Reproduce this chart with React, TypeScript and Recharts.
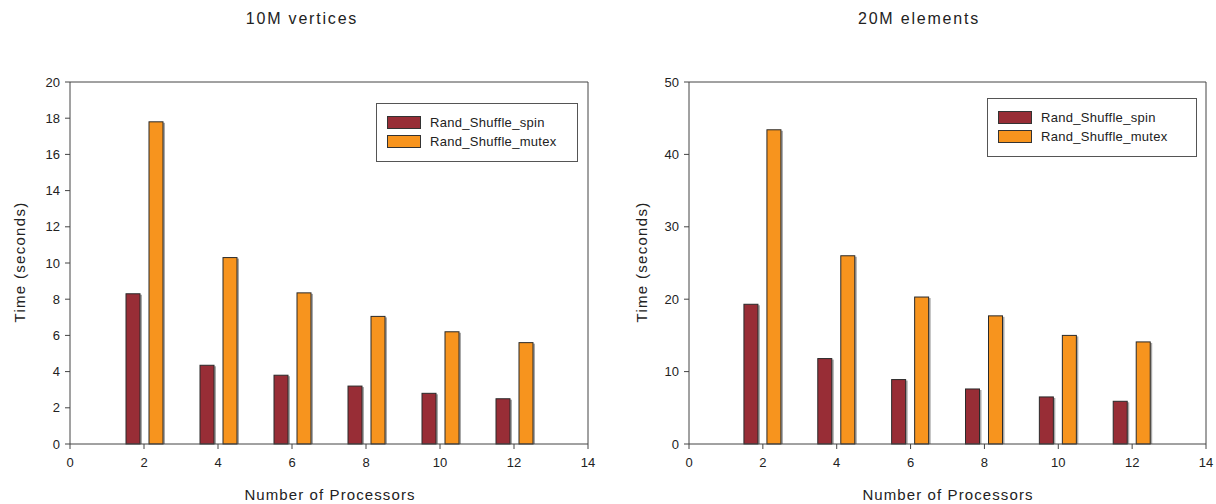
import React from "react";
import { ComposedChart, Bar, XAxis, YAxis, ReferenceLine } from "recharts";

const processors = [2, 4, 6, 8, 10, 12];
const verticesSpin = [8.3, 4.35, 3.8, 3.2, 2.8, 2.5];
const verticesMutex = [17.8, 10.3, 8.35, 7.05, 6.2, 5.6];
const elementsSpin = [19.3, 11.8, 8.9, 7.6, 6.5, 5.9];
const elementsMutex = [43.4, 26.0, 20.3, 17.7, 15.0, 14.1];
const xTicks = [0, 2, 4, 6, 8, 10, 12, 14];
const yTicksLeft = [0, 2, 4, 6, 8, 10, 12, 14, 16, 18, 20];
const yTicksRight = [0, 10, 20, 30, 40, 50];
const seriesNames = ["Rand_Shuffle_spin", "Rand_Shuffle_mutex"];
const titles = ["10M vertices", "20M elements"];

const SPIN = "#982D36";
const MUTEX = "#F7941E";
const FONT = "'Liberation Sans', Arial, sans-serif";

const ShadowBar = (props: any) => {
  const { x, y, width, height, fill } = props;
  if (height == null || width == null) return null;
  return (
    <g>
      <rect x={x + 2} y={y + 1} width={width} height={height - 1} fill="#a8a8a8" />
      <rect x={x} y={y} width={width} height={height} fill={fill} stroke="#2a2a2a" strokeWidth={1} />
    </g>
  );
};

const LegendBox = ({ left, top, width }: { left: number; top: number; width: number }) => (
  <div
    style={{
      position: "absolute",
      left,
      top,
      width,
      border: "1px solid #555",
      background: "#fff",
      padding: "9px 10px 10px 10px",
      fontFamily: FONT,
      fontSize: 13,
      letterSpacing: 0.3,
      color: "#222",
      boxSizing: "border-box",
    }}
  >
    {seriesNames.map((n, i) => (
      <div key={n} style={{ display: "flex", alignItems: "center", height: 19 }}>
        <div
          style={{
            width: 32,
            height: 11,
            background: i === 0 ? SPIN : MUTEX,
            border: "1px solid #333",
            marginRight: 9,
          }}
        />
        <span>{n}</span>
      </div>
    ))}
  </div>
);

type PanelProps = {
  spin: number[];
  mutex: number[];
  yMax: number;
  yTicks: number[];
  margin: { top: number; right: number; bottom: number; left: number };
};

const Panel = ({ spin, mutex, yMax, yTicks, margin }: PanelProps) => {
  const data = processors.map((p, i) => ({ p, spin: spin[i], mutex: mutex[i] }));
  const tickStyle = { fontFamily: FONT, fontSize: 13, fill: "#222" };
  return (
    <ComposedChart width={608} height={504} data={data} margin={margin} barGap={9}>
      <XAxis
        dataKey="p"
        type="number"
        domain={[0, 14]}
        ticks={xTicks}
        allowDataOverflow
        stroke="#444"
        tick={tickStyle}
        tickSize={5}
        tickMargin={9}
        height={30}
      />
      <YAxis
        type="number"
        domain={[0, yMax]}
        ticks={yTicks}
        stroke="#444"
        tick={tickStyle}
        tickSize={5}
        tickMargin={5}
        width={50}
      />
      <ReferenceLine y={yMax} stroke="#444" />
      <ReferenceLine x={14} stroke="#444" />
      <Bar dataKey="spin" name={seriesNames[0]} fill={SPIN} barSize={14} shape={ShadowBar} isAnimationActive={false} />
      <Bar dataKey="mutex" name={seriesNames[1]} fill={MUTEX} barSize={14} shape={ShadowBar} isAnimationActive={false} />
    </ComposedChart>
  );
};

const textBase: React.CSSProperties = {
  position: "absolute",
  fontFamily: FONT,
  color: "#222",
  whiteSpace: "nowrap",
  transform: "translate(-50%, -50%)",
};

export default function App() {
  return (
    <div style={{ position: "absolute", left: 0, top: 0, width: 1216, height: 504, background: "#fff" }}>
      <div style={{ position: "absolute", left: 0, top: 0 }}>
        <Panel
          spin={verticesSpin}
          mutex={verticesMutex}
          yMax={20}
          yTicks={yTicksLeft}
          margin={{ top: 82, right: 20, bottom: 30, left: 20 }}
        />
      </div>
      <div style={{ position: "absolute", left: 608, top: 0 }}>
        <Panel
          spin={elementsSpin}
          mutex={elementsMutex}
          yMax={50}
          yTicks={yTicksRight}
          margin={{ top: 82, right: 10, bottom: 30, left: 31 }}
        />
      </div>
      <LegendBox left={376} top={103} width={202} />
      <LegendBox left={987} top={98} width={210} />
      <div style={{ ...textBase, left: 302, top: 19, fontSize: 16, letterSpacing: 1.8 }}>{titles[0]}</div>
      <div style={{ ...textBase, left: 919, top: 19, fontSize: 16, letterSpacing: 1.8 }}>{titles[1]}</div>
      <div style={{ ...textBase, left: 330, top: 494, fontSize: 15, letterSpacing: 1.1 }}>Number of Processors</div>
      <div style={{ ...textBase, left: 948, top: 494, fontSize: 15, letterSpacing: 1.1 }}>Number of Processors</div>
      <div style={{ ...textBase, left: 19, top: 262, fontSize: 15, letterSpacing: 1.3, transform: "translate(-50%, -50%) rotate(-90deg)" }}>
        Time (seconds)
      </div>
      <div style={{ ...textBase, left: 641, top: 262, fontSize: 15, letterSpacing: 1.3, transform: "translate(-50%, -50%) rotate(-90deg)" }}>
        Time (seconds)
      </div>
    </div>
  );
}
